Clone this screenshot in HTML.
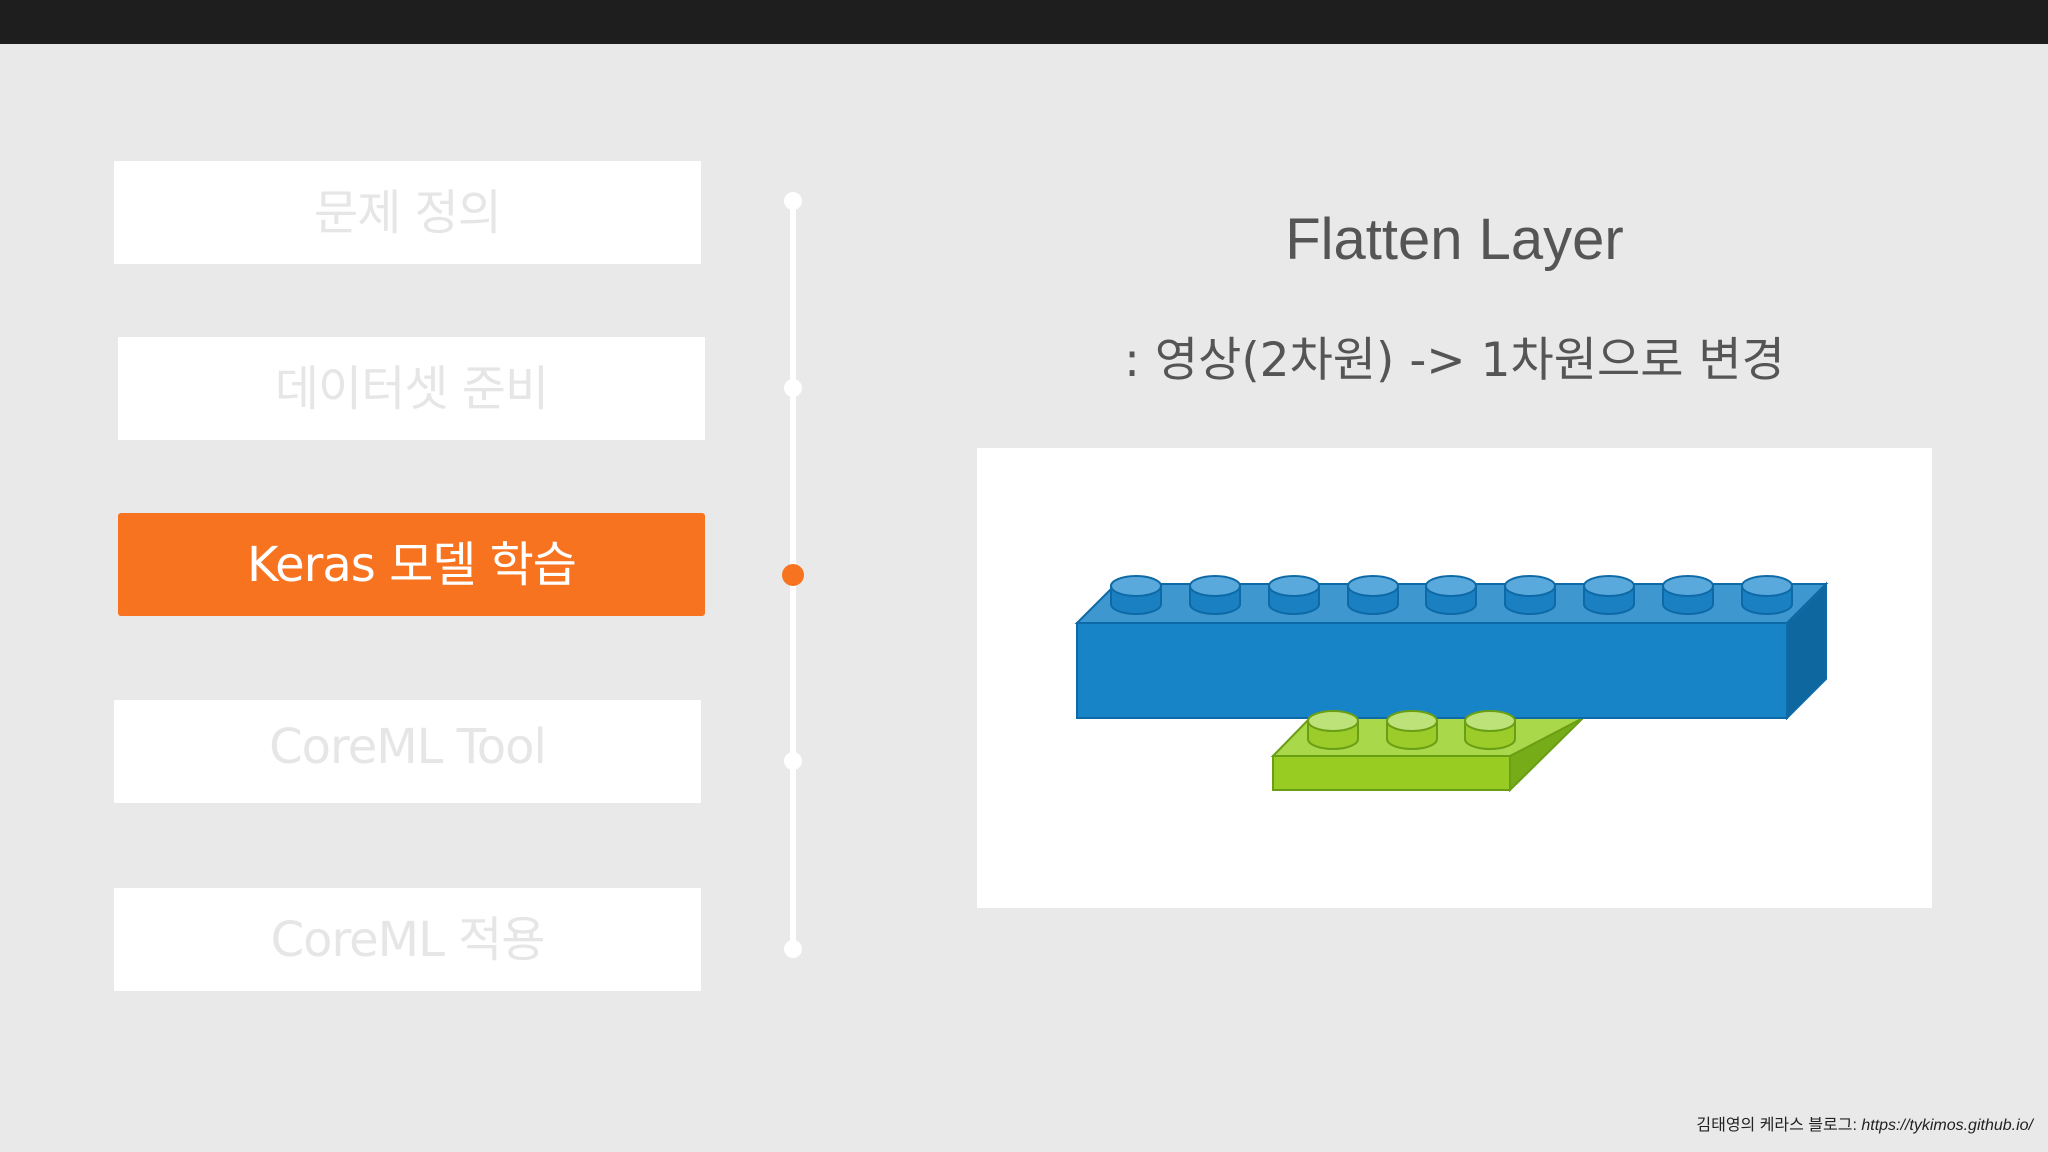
<!DOCTYPE html>
<html><head><meta charset="utf-8"><style>
html,body{margin:0;padding:0}
body{width:2048px;height:1152px;background:#e9e9e9;position:relative;overflow:hidden;font-family:"Liberation Sans","Noto Sans CJK KR",sans-serif}
.top{position:absolute;left:0;top:0;width:2048px;height:44px;background:#1e1e1e}
.box{position:absolute;width:587px;height:93px;padding-bottom:10px;background:#fff;color:#e6e6e6;font-size:48px;display:flex;align-items:center;justify-content:center;font-family:"DejaVu Sans","Noto Sans CJK KR",sans-serif;letter-spacing:-1px}
.on{background:#f8731f;color:#fff;border-radius:3px}
.line{position:absolute;left:790px;top:201px;width:6px;height:748px;background:#fff}
.dot{position:absolute;width:18px;height:18px;border-radius:50%;background:#fff;left:784px}
.title{position:absolute;left:977px;width:955px;text-align:center;color:#555;font-family:"DejaVu Sans","Noto Sans CJK KR",sans-serif}
.panel{position:absolute;left:977px;top:448px;width:955px;height:460px;background:#fff}
.foot{position:absolute;right:15px;top:1111px;font-size:16px;color:#222}
</style></head><body>
<div class="top"></div>
<div class="box" style="left:114px;top:161px">문제 정의</div>
<div class="box" style="left:118px;top:337px">데이터셋 준비</div>
<div class="box on" style="left:118px;top:513px">Keras 모델 학습</div>
<div class="box" style="left:114px;top:700px">CoreML Tool</div>
<div class="box" style="left:114px;top:888px">CoreML 적용</div>
<div class="line"></div>
<div class="dot" style="top:192px"></div>
<div class="dot" style="top:379px"></div>
<div class="dot" style="top:564px;left:782px;width:22px;height:22px;background:#f8731f"></div>
<div class="dot" style="top:752px"></div>
<div class="dot" style="top:940px"></div>
<div class="title" style="top:206px;font-size:58px;font-family:'Liberation Sans',sans-serif">Flatten Layer</div>
<div class="title" style="top:321px;font-size:47px">: 영상(2차원) -&gt; 1차원으로 변경</div>
<div class="panel"></div>
<svg style="position:absolute;left:0;top:0" width="2048" height="1152">
<g stroke="#6a9e14" stroke-width="2">
<polygon points="1510,756 1583,718 1510,790" fill="#76ac18"/>
<polygon points="1273,756 1310,718 1583,718 1510,756" fill="#a9d84a"/>
<rect x="1273" y="756" width="237" height="34" fill="#99cc22"/>
</g>
<g stroke="#0e6aa6" stroke-width="2">
<polygon points="1077,623 1116,584 1826,584 1787,623" fill="#3f97d0"/>
<polygon points="1787,623 1826,584 1826,679 1787,718" fill="#0f67a0"/>
<rect x="1077" y="623" width="710" height="95" fill="#1684c7"/>
</g>
<g stroke="#0e6aa6" stroke-width="2" fill="#1a80c2">
<g id="s"><path d="M1111,586 v18 a25,10 0 0 0 50,0 v-18"/><ellipse cx="1136" cy="586" rx="25" ry="10" fill="#5aa9dc"/></g>
<use href="#s" x="79"/><use href="#s" x="158"/><use href="#s" x="237"/><use href="#s" x="315"/><use href="#s" x="394"/><use href="#s" x="473"/><use href="#s" x="552"/><use href="#s" x="631"/>
</g>
<g stroke="#6a9e14" stroke-width="2" fill="#9ccc2a">
<g id="g"><path d="M1308,721 v18 a25,10 0 0 0 50,0 v-18"/><ellipse cx="1333" cy="721" rx="25" ry="10" fill="#bde27a"/></g>
<use href="#g" x="79"/><use href="#g" x="157"/>
</g>
</svg>
<div class="foot">김태영의 케라스 블로그: <i>https://tykimos.github.io/</i></div>
</body></html>
